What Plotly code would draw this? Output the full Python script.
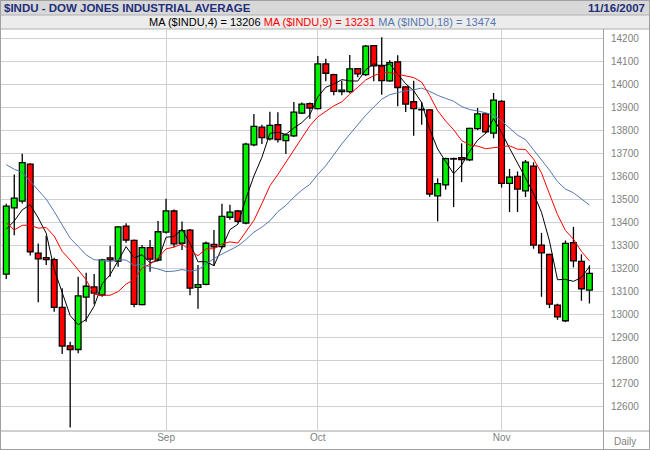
import numpy as np
import plotly.graph_objects as go

# ---------------- data ----------------
dates = ["Aug 6","Aug 7","Aug 8","Aug 9","Aug 10","Aug 13","Aug 14","Aug 15","Aug 16","Aug 17",
         "Aug 20","Aug 21","Aug 22","Aug 23","Aug 24","Aug 27","Aug 28","Aug 29","Aug 30","Aug 31",
         "Sep 4","Sep 5","Sep 6","Sep 7","Sep 10","Sep 11","Sep 12","Sep 13","Sep 14","Sep 17",
         "Sep 18","Sep 19","Sep 20","Sep 21","Sep 24","Sep 25","Sep 26","Sep 27","Sep 28",
         "Oct 1","Oct 2","Oct 3","Oct 4","Oct 5","Oct 8","Oct 9","Oct 10","Oct 11","Oct 12",
         "Oct 15","Oct 16","Oct 17","Oct 18","Oct 19","Oct 22","Oct 23","Oct 24","Oct 25","Oct 26",
         "Oct 29","Oct 30","Oct 31",
         "Nov 1","Nov 2","Nov 5","Nov 6","Nov 7","Nov 8","Nov 9","Nov 12","Nov 13","Nov 14","Nov 15","Nov 16"]

opens = [13174,13462,13491,13652,13265,13245,13237,13029,12862,12846,
         13074,13118,13083,13244,13230,13382,13320,13041,13289,13235,
         13356,13448,13308,13365,13116,13129,13303,13293,13421,13448,
         13396,13736,13813,13762,13823,13754,13775,13874,13915,
         13893,14088,14041,13967,13967,14067,14041,14167,14081,14014,
         14096,13988,13923,13890,13888,13514,13562,13676,13680,13671,
         13806,13870,13787,
         13925,13568,13599,13536,13643,13300,13259,13039,12971,13311,13229,13104]
highs = [13480,13607,13697,13656,13307,13339,13245,13112,12880,13162,
         13180,13174,13240,13297,13382,13395,13324,13300,13322,13405,
         13501,13455,13402,13370,13213,13315,13366,13480,13475,13452,
         13745,13870,13823,13880,13877,13785,13922,13920,13920,
         14122,14110,14045,14014,14126,14070,14170,14170,14204,14104,
         14125,13990,14014,13922,13890,13590,13680,13680,13742,13810,
         13896,13875,13961,
         13930,13631,13620,13670,13660,13353,13262,13045,13320,13379,13260,13212]
lows = [13152,13343,13481,13255,13051,13213,13010,12826,12507,12830,
        12967,13043,13075,13162,13206,13310,13030,13038,13184,13230,
        13350,13290,13279,13082,13023,13125,13209,13285,13410,13395,
        13390,13730,13739,13755,13746,13696,13770,13870,13849,
        13890,14012,13951,13951,13960,14030,14035,14012,13954,14010,
        13903,13878,13775,13823,13510,13403,13541,13465,13574,13665,
        13800,13785,13764,
        13550,13444,13444,13509,13284,13075,13026,12975,12965,13203,13058,13046]
closes = [13469,13504,13658,13271,13240,13237,13029,12861,12846,13079,
          13121,13091,13236,13236,13379,13322,13042,13289,13239,13358,
          13449,13305,13363,13113,13128,13308,13292,13425,13443,13403,
          13739,13816,13767,13820,13759,13779,13878,13913,13896,
          14088,14047,13968,13974,14066,14044,14165,14079,14015,14093,
          13985,13913,13893,13889,13522,13567,13676,13675,13672,13807,
          13870,13792,13930,
          13568,13595,13543,13661,13300,13266,13043,12988,13307,13231,13110,13177]

# closes before the first visible bar (needed for the moving averages)
prior_closes = [13862,13907,13951,13972,13918,14000,13851,13943,13717,13785,
                13474,13265,13358,13212,13362,13463,13182]

ma_periods = [4, 9, 18]
ma_colors = ["#000000", "#ff0000", "#5577b0"]

month_ticks = [20, 39, 62]
month_labels = ["Sep", "Oct", "Nov"]
y_ticks = list(range(12600, 14201, 100))

# ---------------- figure ----------------
x = list(range(len(closes)))
allc = np.array(prior_closes + closes, dtype=float)
n0 = len(prior_closes)

fig = go.Figure()

# wicks (upper and lower parts, so they do not cross the bodies)
wx, wy = [], []
for i in x:
    top = max(opens[i], closes[i])
    bot = min(opens[i], closes[i])
    if highs[i] > top:
        wx += [i, i, None]; wy += [top, highs[i], None]
    if lows[i] < bot:
        wx += [i, i, None]; wy += [bot, lows[i], None]
fig.add_trace(go.Scatter(x=wx, y=wy, mode="lines", line=dict(color="#000000", width=1.3),
                         hoverinfo="skip", showlegend=False))

# candle bodies
body_h = []
body_c = []
for o, c in zip(opens, closes):
    h = c - o
    if abs(h) < 2:
        h = 2 if h >= 0 else -2
    body_h.append(h)
    body_c.append("#00f000" if c > o else "#ff0000")
fig.add_trace(go.Bar(x=x, y=body_h, base=opens, width=0.72,
                     marker=dict(color=body_c, line=dict(color="#000000", width=1.3)),
                     hovertext=dates, showlegend=False))

for p, col in zip(ma_periods, ma_colors):
    ma = np.convolve(allc, np.ones(p) / p, mode="valid")  # ma[k] ends at index k+p-1
    vals = [ma[n0 + i - (p - 1)] for i in x]
    fig.add_trace(go.Scatter(x=x, y=vals, mode="lines",
                             line=dict(color=col, width=1), hoverinfo="skip",
                             showlegend=False))

grid = "#d0d0d0"
fig.update_layout(
    width=650, height=450,
    margin=dict(l=1, r=47, t=30, b=20, pad=0),
    paper_bgcolor="white", plot_bgcolor="white",
    xaxis=dict(range=[-0.66, 74.7], tickvals=month_ticks, ticktext=month_labels,
               showgrid=True, gridcolor=grid, gridwidth=1, zeroline=False,
               ticks="", automargin=False,
               tickfont=dict(family="Liberation Sans, Arial", size=10, color="#808080"),
               showline=False, fixedrange=True),
    yaxis=dict(range=[12496, 14235], side="right", tickvals=y_ticks, tickformat="d",
               showgrid=True, gridcolor=grid, gridwidth=1, zeroline=False, ticks="",
               automargin=False,
               tickfont=dict(family="Liberation Sans, Arial", size=10, color="#808080"),
               ticklabelstandoff=7, showline=False, fixedrange=True),
    font=dict(family="Liberation Sans, Arial"),
)

def px_rect(x0, y0, x1, y1, fill):
    return dict(type="rect", xref="paper", yref="paper",
                x0=(x0 - 1) / 602, x1=(x1 - 1) / 602,
                y0=(430 - y1) / 400, y1=(430 - y0) / 400,
                fillcolor=fill, line=dict(width=0), layer="below")
def px_line(x0, y0, x1, y1, color="#a0a0a0", w=1):
    return dict(type="line", xref="paper", yref="paper",
                x0=(x0 - 1) / 602, x1=(x1 - 1) / 602,
                y0=(430 - y0) / 400, y1=(430 - y1) / 400,
                line=dict(color=color, width=w), layer="above")

fig.update_layout(shapes=[
    px_rect(0, 0, 650, 15, "#d8d8d8"),
    px_rect(0, 15, 650, 29, "#ececec"),
    px_line(0, 15, 650, 15, "#b0b0b0"),
    px_line(0, 29, 650, 29, "#b0b0b0"),
    px_line(603.5, 29, 603.5, 450, "#a0a0a0"),
    px_line(0, 431, 650, 431, "#a0a0a0"),
    px_line(0.5, 0, 0.5, 450, "#a0a0a0"),
    px_line(649.5, 0, 649.5, 450, "#a0a0a0"),
    px_line(0, 449.5, 650, 449.5, "#a0a0a0"),
    px_line(0, 0.5, 650, 0.5, "#a0a0a0"),
])

def px_ann(text, xp, yp, color, size, anchor="left", bold=False, family="Liberation Sans, Arial"):
    return dict(text=("<b>%s</b>" % text) if bold else text, xref="paper", yref="paper",
                x=(xp - 1) / 602, y=(430 - yp) / 400, xanchor=anchor, yanchor="middle",
                showarrow=False, font=dict(family=family, size=size, color=color))

ma_last = [int(np.mean(allc[-p:])) for p in ma_periods]
ma_text = ("MA ($INDU,4) = %d " % ma_last[0]
           + "<span style='color:#ff0000'>MA ($INDU,9) = %d</span> " % ma_last[1]
           + "<span style='color:#5577b0'>MA ($INDU,18) = %d</span>" % ma_last[2])
fig.update_layout(annotations=[
    px_ann("$INDU - DOW JONES INDUSTRIAL AVERAGE", 2, 8, "#1f2f7a", 11.5, bold=True),
    px_ann("11/16/2007", 647, 8, "#1f2f7a", 11.5, anchor="right", bold=True),
    px_ann(ma_text, 323, 22, "#000000", 11, anchor="center"),
    px_ann("Daily", 612, 441, "#808080", 10),
])

fig.write_html("out.html", config={"displayModeBar": False},
               post_script="document.body.style.margin='0';")
